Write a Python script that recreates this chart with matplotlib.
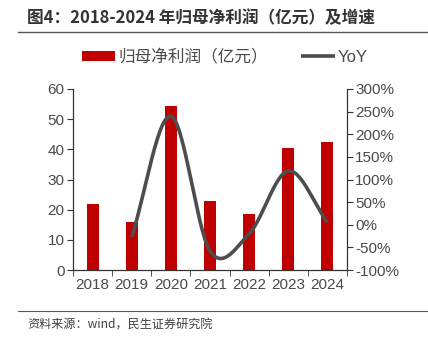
import numpy as np
import matplotlib
matplotlib.use("Agg")
import matplotlib.pyplot as plt
from matplotlib.ticker import FuncFormatter

plt.rcParams['font.family'] = ['Liberation Sans', 'Noto Sans CJK SC', 'DejaVu Sans']

years = ['2018', '2019', '2020', '2021', '2022', '2023', '2024']
profit = [22.0, 16.0, 54.5, 23.0, 18.5, 40.5, 42.5]          # 亿元
yoy = [None, -27, 240, -58, -20, 119, 5]                      # %


def smooth(xs, ys, n=30):
    # Catmull-Rom style curve, like Excel's smoothed line
    xs = np.asarray(xs, float)
    ys = np.asarray(ys, float)
    px = np.concatenate([[2 * xs[0] - xs[1]], xs, [2 * xs[-1] - xs[-2]]])
    py = np.concatenate([[2 * ys[0] - ys[1]], ys, [2 * ys[-1] - ys[-2]]])
    outx, outy = [], []
    for i in range(1, len(px) - 2):
        t = np.linspace(0, 1, n)
        for p, out in ((px, outx), (py, outy)):
            p0, p1, p2, p3 = p[i - 1], p[i], p[i + 1], p[i + 2]
            out.extend(0.5 * (2 * p1 + (-p0 + p2) * t + (2 * p0 - 5 * p1 + 4 * p2 - p3) * t ** 2
                              + (-p0 + 3 * p1 - 3 * p2 + p3) * t ** 3))
    return outx, outy


fig = plt.figure(figsize=(4.28, 3.41), dpi=100)
ax = fig.add_axes([73 / 428, 1 - 270 / 341, 274 / 428, 181 / 341])
ax2 = ax.twinx()

x = np.arange(len(years))
bars = ax.bar(x, profit, width=0.31, color='#C00000', label='归母净利润（亿元）', zorder=2)

yx = [i for i, v in enumerate(yoy) if v is not None]
yv = [v for v in yoy if v is not None]
sx, sy = smooth(yx, yv)
line, = ax2.plot(sx, sy, color='#4D4D4D', lw=2.6, label='YoY', solid_capstyle='butt')

ax.set_xlim(-0.5, len(years) - 0.5)
ax.set_ylim(0, 60)
ax.set_yticks(range(0, 61, 10))
ax2.set_ylim(-100, 300)
ax2.set_yticks(range(-100, 301, 50))
ax2.yaxis.set_major_formatter(FuncFormatter(lambda v, p: f'{int(v)}%'))

ax.set_xticks(x)
ax.set_xticklabels(years)
ax.set_xticks(np.arange(-0.5, len(years), 1), minor=True)
ax.tick_params(axis='x', which='major', length=0, pad=6)
ax.tick_params(axis='x', which='minor', length=4, direction='out', color='#333333')

for a in (ax, ax2):
    a.spines['top'].set_visible(False)
    for s in ('left', 'right', 'bottom'):
        a.spines[s].set_color('#333333')
        a.spines[s].set_linewidth(0.9)
    a.tick_params(axis='y', length=4, color='#333333', labelsize=11, labelcolor='#4a4a4a', pad=2)
ax.tick_params(axis='x', labelsize=11, labelcolor='#4a4a4a')
ax.spines['right'].set_visible(False)
ax2.spines['left'].set_visible(False)
ax2.spines['bottom'].set_visible(False)

fig.legend([bars, line], ['归母净利润（亿元）', 'YoY'], loc='center', bbox_to_anchor=(225 / 428, 1 - 57 / 341),
           ncol=2, frameon=False, fontsize=12, handlelength=2.0, handleheight=0.6,
           columnspacing=2.0, handletextpad=0.2, labelcolor='#4a4a4a')

fig.text(27 / 428, 1 - 18 / 341, '图4：2018-2024 年归母净利润（亿元）及增速', fontsize=12,
         fontweight='bold', color='#333333', va='center', ha='left',
         family=['Noto Sans CJK SC', 'DejaVu Sans'])
fig.add_artist(plt.Line2D([18 / 428, 1], [1 - 32 / 341] * 2, color='#555555', lw=1.0))
fig.add_artist(plt.Line2D([18 / 428, 1], [1 - 311 / 341] * 2, color='#555555', lw=0.8))
fig.text(27 / 428, 1 - 325 / 341, '资料来源：wind，民生证券研究院', fontsize=8.7, color='#404040',
         va='center', ha='left', family=['Noto Sans CJK SC', 'DejaVu Sans'])

fig.savefig('out.png', dpi=100)
